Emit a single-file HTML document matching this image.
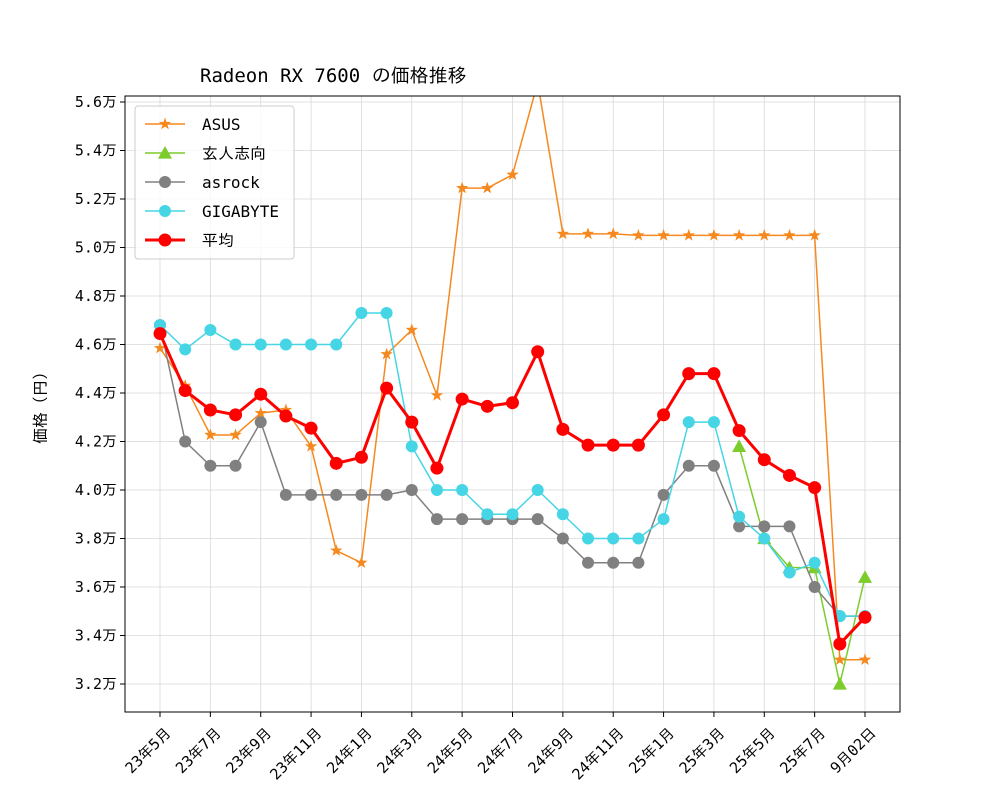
<!DOCTYPE html>
<html><head><meta charset="utf-8"><style>
body{margin:0;background:#fff}
svg{display:block;font-family:"DejaVu Sans Mono","IPAGothic","Noto Sans CJK JP",monospace}
</style></head><body>
<svg id="chart" width="1000" height="800" xmlns="http://www.w3.org/2000/svg">
<rect width="1000" height="800" fill="#fff"/>
<text x="200" y="82" font-size="19">Radeon RX 7600 の価格推移</text>
<text transform="translate(46,404) rotate(-90)" font-size="16" text-anchor="middle">価格（円）</text>
<g id="grid"></g><g id="series"></g><g id="axes"></g><g id="legend"></g>
</svg>
<script>
const xLabels=["23年5月","23年7月","23年9月","23年11月","24年1月","24年3月","24年5月","24年7月","24年9月","24年11月","25年1月","25年3月","25年5月","25年7月","9月02日"];
const yTicks=[3.2,3.4,3.6,3.8,4.0,4.2,4.4,4.6,4.8,5.0,5.2,5.4,5.6];
const asus=[4.585,4.43,4.227,4.227,4.317,4.33,4.18,3.75,3.70,4.56,4.66,4.39,5.245,5.245,5.30,5.68,5.056,5.056,5.056,5.05,5.05,5.05,5.05,5.05,5.05,5.05,5.05,3.30,3.30];
const genjin=[null,null,null,null,null,null,null,null,null,null,null,null,null,null,null,null,null,null,null,null,null,null,null,4.18,3.80,3.68,3.68,3.20,3.64];
const asrock=[4.68,4.20,4.10,4.10,4.28,3.98,3.98,3.98,3.98,3.98,4.00,3.88,3.88,3.88,3.88,3.88,3.80,3.70,3.70,3.70,3.98,4.10,4.10,3.85,3.85,3.85,3.60,3.48,3.48];
const gigabyte=[4.68,4.58,4.66,4.60,4.60,4.60,4.60,4.60,4.73,4.73,4.18,4.00,4.00,3.90,3.90,4.00,3.90,3.80,3.80,3.80,3.88,4.28,4.28,3.89,3.80,3.66,3.70,3.48,3.48];
const average=[4.645,4.41,4.33,4.31,4.395,4.305,4.255,4.11,4.135,4.42,4.28,4.09,4.375,4.345,4.36,4.57,4.25,4.185,4.185,4.185,4.31,4.48,4.48,4.245,4.125,4.06,4.01,3.365,3.475];
const NS="http://www.w3.org/2000/svg";
const L=125,R=900,T=96,B=712;
const X=i=>160+i*(865-160)/28;
const Y=v=>684-(v-3.2)*242.5;
function mk(tag,attrs,parent){const e=document.createElementNS(NS,tag);for(const k in attrs)e.setAttribute(k,attrs[k]);parent.appendChild(e);return e;}
const grid=document.getElementById('grid'),axes=document.getElementById('axes'),ser=document.getElementById('series'),leg=document.getElementById('legend');
xLabels.forEach((lb,k)=>{const x=X(k*2);
 const g=mk('line',{x1:x,x2:x,y1:T,y2:B,stroke:'#d8d8d8','stroke-width':0.8},grid);
 
 
 const t=mk('line',{x1:x,x2:x,y1:B,y2:B+5,stroke:'#000'},axes);
 
 
 const tx=mk('text',{transform:`translate(${x+4},${B+14}) rotate(-45)`,'text-anchor':'end','font-size':15,'dominant-baseline':'hanging'},axes);
 tx.textContent=lb;
 
 
});
yTicks.forEach(v=>{const y=Y(v);
 const g=mk('line',{x1:L,x2:R,y1:y,y2:y,stroke:'#d8d8d8','stroke-width':0.8},grid);
 
 
 const t=mk('line',{x1:L-5,x2:L,y1:y,y2:y,stroke:'#000'},axes);
 
 
 const tx=mk('text',{x:L-8,y:y+5,'text-anchor':'end','font-size':15},axes);
 tx.textContent=v.toFixed(1)+'万';
 
 
});
const frame=mk('rect',{x:L,y:T,width:R-L,height:B-T,fill:'none',stroke:'#000','stroke-width':1},axes);


const defs=mk('clipPath',{id:'clip'},ser);mk('rect',{x:L,y:T,width:R-L,height:B-T},defs);
function marker(type,x,y,c,s,p){
 if(type==='star'){let pts=[];for(let k=0;k<10;k++){const r=k%2?s*0.4:s,a=-Math.PI/2+k*Math.PI/5;pts.push((x+r*Math.cos(a)).toFixed(1)+','+(y+r*Math.sin(a)).toFixed(1));}return mk('polygon',{points:pts.join(' '),fill:c},p);}
 if(type==='tri')return mk('polygon',{points:`${x},${y-s} ${x-s},${y+s*0.8} ${x+s},${y+s*0.8}`,fill:c},p);
 return mk('circle',{cx:x,cy:y,r:s,fill:c},p);
}
const series=[
 {name:'ASUS',data:asus,c:'#f5891f',w:1.5,m:'star',s:6.5},
 {name:'玄人志向',data:genjin,c:'#7ccc2c',w:1.5,m:'tri',s:7},
 {name:'asrock',data:asrock,c:'#808080',w:1.5,m:'circle',s:6},
 {name:'GIGABYTE',data:gigabyte,c:'#45d5e5',w:1.5,m:'circle',s:6},
 {name:'平均',data:average,c:'#ff0000',w:3,m:'circle',s:6.5}
];
series.forEach((s,si)=>{
 const g=mk('g',{'clip-path':'url(#clip)'},ser);
 
 
 let d='';s.data.forEach((v,i)=>{if(v==null)return;d+=(d?'L':'M')+X(i).toFixed(1)+','+Y(v).toFixed(1);});
 const p=mk('path',{d:d,fill:'none',stroke:s.c,'stroke-width':s.w},g);
 
 
 s.data.forEach((v,i)=>{if(v==null)return;const m=marker(s.m,X(i),Y(v),s.c,s.s,g);
  
  });
 const ly=124+si*29;
 const ll=mk('line',{x1:145,x2:185,y1:ly,y2:ly,stroke:s.c,'stroke-width':s.w},leg);
 
 
 marker(s.m,165,ly,s.c,s.s,leg);
 const lt=mk('text',{x:202,y:ly+6,'font-size':16},leg);
 lt.textContent=s.name;
 
 
});
const lb=mk('rect',{x:135,y:106,width:159,height:153,fill:'#fff','fill-opacity':0.8,stroke:'#ccc',rx:3},leg);
leg.insertBefore(lb,leg.firstChild);


</script>
</body></html>
